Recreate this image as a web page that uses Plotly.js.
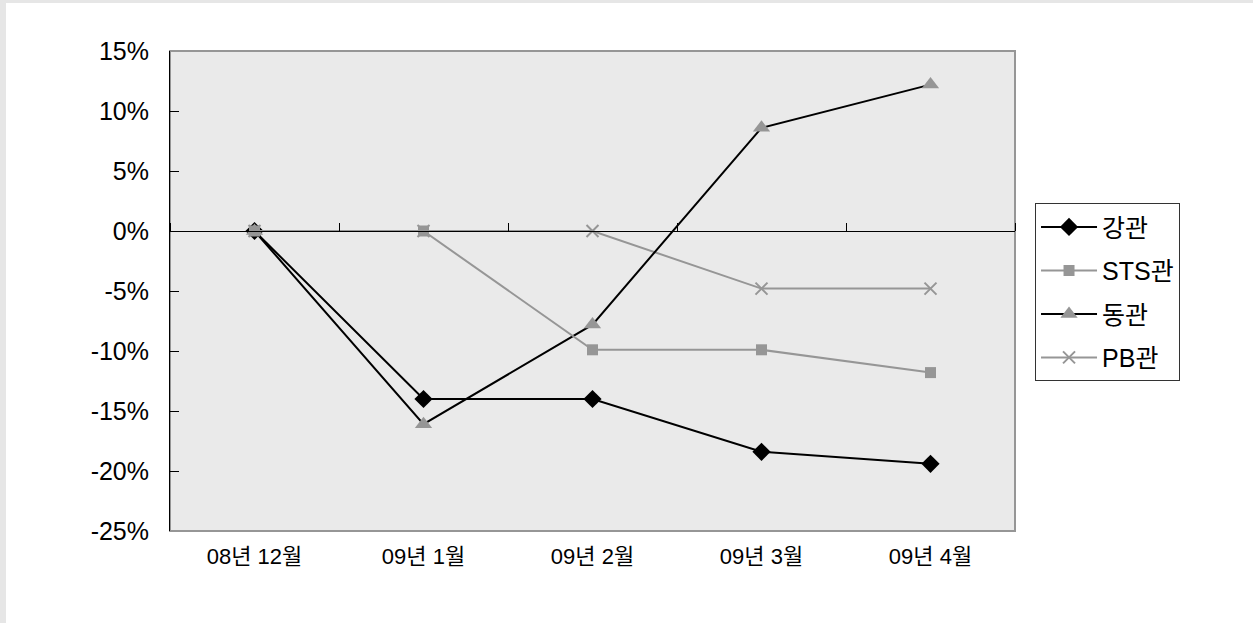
<!DOCTYPE html>
<html>
<head>
<meta charset="utf-8">
<script src="https://cdn.plot.ly/plotly-3.0.1.min.js"></script>
<style>
html, body { margin:0; padding:0; background:#ffffff; }
#frame { position:absolute; left:0; top:0; width:1253px; height:623px; background:#e6e6e6; }
#chart { position:absolute; left:6px; top:3px; width:1247px; height:620px; background:#ffffff; }
</style>
</head>
<body>
<div id="frame"></div>
<div id="chart"></div>
<script>
const categories = ['08년 12월', '09년 1월', '09년 2월', '09년 3월', '09년 4월'];
const seriesNames = ['강관', 'STS관', '동관', 'PB관'];
const gangwan = [0, -14.0, -14.0, -18.4, -19.4];
const stsgwan = [0, 0, -9.9, -9.9, -11.8];
const donggwan = [0, -16.1, -7.8, 8.6, 12.2];
const pbgwan = [0, 0, 0, -4.8, -4.8];
const yTicks = [-25, -20, -15, -10, -5, 0, 5, 10, 15];
const yTickText = yTicks.map(v => v + '%');

const FONT = '"Liberation Sans", "Noto Sans CJK KR", sans-serif';
const GRAY = '#969696';

const series = [
  {name: seriesNames[0], y: gangwan, line: {color: '#000000', width: 2},
   marker: {symbol: 'diamond', size: 14, color: '#000000'}},
  {name: seriesNames[1], y: stsgwan, line: {color: GRAY, width: 2},
   marker: {symbol: 'square', size: 11, color: GRAY}},
  {name: seriesNames[2], y: donggwan, line: {color: '#000000', width: 2},
   marker: {symbol: 'triangle-up', size: 15, color: GRAY}},
  {name: seriesNames[3], y: pbgwan, line: {color: GRAY, width: 2},
   marker: {symbol: 'x-thin', size: 12, color: GRAY, line: {color: GRAY, width: 2}}}
].map((t, i) => Object.assign({
  type: 'scatter', mode: 'lines+markers', x: categories,
  legendgroup: 'g' + i, legendrank: i + 1, cliponaxis: false
}, t));

// drawing order: STS관 markers end up on top, as in the original
const drawOrder = [3, 0, 2, 1];
const traces = drawOrder.map(i => series[i]);

// invisible helper trace so the zero-crossing category axis (x2) gets its ticks
traces.unshift({
  type: 'scatter', mode: 'markers', x: categories, y: pbgwan, xaxis: 'x2', yaxis: 'y',
  marker: {opacity: 0}, showlegend: false, hoverinfo: 'skip'
});

const layout = {
  width: 1247, height: 620,
  margin: {l: 164, r: 238, t: 48, b: 92},
  paper_bgcolor: '#ffffff',
  plot_bgcolor: '#eaeaea',
  showlegend: true,
  font: {family: FONT, size: 24, color: '#000000'},
  xaxis: {
    type: 'category', range: [-0.5, 4.5], showgrid: false, zeroline: false,
    showline: false, ticks: '', ticklabelstandoff: 10,
    tickfont: {family: FONT, size: 22, color: '#000'}, fixedrange: true
  },
  xaxis2: {
    overlaying: 'x', anchor: 'free', position: 0.625, type: 'category',
    range: [-0.5, 4.5], showline: true, linecolor: '#000000', linewidth: 1,
    tickson: 'boundaries', ticks: 'outside', ticklen: 8,
    tickcolor: '#000000', tickwidth: 1, showticklabels: false, showgrid: false,
    zeroline: false, side: 'top', fixedrange: true
  },
  yaxis: {
    range: [-25, 15], tickmode: 'array', tickvals: yTicks, ticktext: yTickText,
    showgrid: false, zeroline: false, showline: true, linecolor: '#000000',
    linewidth: 1, ticks: 'inside', ticklen: 9, tickcolor: '#000000',
    ticklabelstandoff: 15,
    tickfont: {family: FONT, size: 25, color: '#000'}, fixedrange: true
  },
  shapes: [{type: 'rect', xref: 'paper', yref: 'paper', x0: 0, x1: 1, y0: 0, y1: 1,
            line: {color: GRAY, width: 2}, layer: 'below'}],
  legend: {
    x: 1.0237, y: 0.683, xanchor: 'left', yanchor: 'top',
    bgcolor: '#ffffff', bordercolor: '#333333', borderwidth: 1,
    font: {family: FONT, size: 25, color: '#000'}, tracegroupgap: 8,
    itemwidth: 56, traceorder: 'grouped'
  }
};

Plotly.newPlot('chart', traces, layout, {displayModeBar: false, staticPlot: true});
</script>
</body>
</html>
